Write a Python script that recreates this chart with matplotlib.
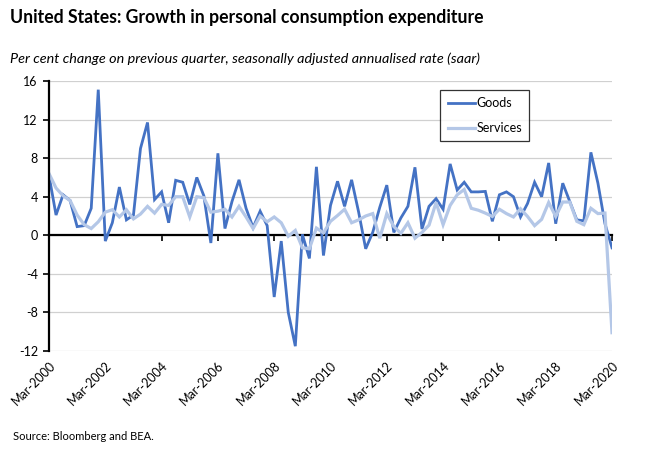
import numpy as np
import matplotlib
matplotlib.use("Agg")
import matplotlib.pyplot as plt

plt.rcParams['font.family'] = ['Lato', 'DejaVu Sans']

# quarterly, Mar-2000 .. Mar-2020
quarters = [f"{m}-{y}" for y in range(2000, 2021) for m in ["Mar", "Jun", "Sep", "Dec"]][:81]

goods = [6.2, 2.1, 4.2, 3.6, 0.9, 1.0, 2.8, 15.1, -0.6, 1.3,
         5.0, 1.6, 2.1, 9.0, 11.7, 3.7, 4.5, 1.3, 5.7, 5.5,
         3.2, 6.0, 4.1, -0.8, 8.5, 0.7, 3.5, 5.75, 2.8, 0.8,
         2.5, 1.0, -6.4, -0.6, -8.0, -11.5, 0.1, -2.4, 7.1, -2.1,
         3.1, 5.6, 3.0, 5.75, 2.4, -1.4, 0.3, 2.9, 5.2, 0.3,
         1.8, 3.0, 7.05, 0.65, 3.0, 3.8, 2.7, 7.4, 4.7, 5.5,
         4.5, 4.5, 4.55, 1.45, 4.2, 4.5, 4.0, 1.9, 3.3, 5.5,
         4.0, 7.5, 1.2, 5.4, 3.5, 1.6, 1.5, 8.6, 5.4, 1.2,
         -1.3]

services = [6.4, 4.9, 4.1, 3.6, 2.1, 1.1, 0.7, 1.4, 2.4, 2.65,
            1.9, 2.65, 1.7, 2.2, 3.0, 2.3, 3.2, 3.1, 4.0, 4.0,
            1.9, 4.0, 3.9, 2.4, 2.5, 2.7, 1.9, 3.0, 1.9, 0.7,
            2.0, 1.4, 1.9, 1.3, -0.1, 0.5, -1.3, -1.4, 0.75, 0.25,
            1.45, 2.05, 2.7, 1.3, 1.6, 2.0, 2.25, -0.3, 2.25, 0.9,
            0.2, 1.3, -0.3, 0.3, 1.05, 3.4, 1.1, 3.1, 4.2, 4.75,
            2.8, 2.6, 2.3, 1.95, 2.7, 2.25, 1.9, 2.75, 1.95, 1.0,
            1.65, 3.4, 1.95, 3.45, 3.45, 1.45, 1.1, 2.8, 2.25, 2.3,
            -10.1]

yticks = [-12, -8, -4, 0, 4, 8, 12, 16]

fig = plt.figure(figsize=(6.5, 4.55), dpi=100)
ax = fig.add_axes([49 / 650, 1 - 351 / 455, 563 / 650, 270 / 455])

x = np.arange(len(quarters))
ax.plot(x, goods, color="#4472C4", lw=2.0, label="Goods", solid_joinstyle="miter")
ax.plot(x, services, color="#B4C7E7", lw=2.3, label="Services", solid_joinstyle="miter")

ax.set_xlim(0, len(quarters) - 1)
ax.set_ylim(-12, 16)
ax.set_yticks(yticks)
ax.set_yticklabels([str(v) for v in yticks], fontsize=9)
ax.yaxis.grid(True, color="#D0D0D0", lw=0.9)
ax.set_axisbelow(True)
ax.tick_params(axis="y", length=4, width=1.2, direction="out", pad=4)

for s in ["top", "right"]:
    ax.spines[s].set_visible(False)
ax.spines["left"].set_linewidth(1.6)
# horizontal axis drawn at zero
ax.spines["bottom"].set_position(("data", 0))
ax.spines["bottom"].set_linewidth(1.6)
ax.spines["bottom"].set_zorder(1)

tick_pos = x[::8]
ax.set_xticks(tick_pos)
ax.set_xticklabels([])
ax.tick_params(axis="x", length=4, width=1.2, direction="out")

# labels at bottom of the plot area
sec = ax.secondary_xaxis(0.0)
sec.set_xticks(tick_pos)
sec.set_xticklabels([quarters[i] for i in tick_pos], rotation=45, ha="right",
                    va="top", rotation_mode="anchor", fontsize=9)
sec.tick_params(length=0, pad=6)
sec.spines["bottom"].set_visible(False)

leg = ax.legend(loc="upper left", bbox_to_anchor=(0.6945, 0.967), fontsize=9,
                frameon=True, fancybox=False, edgecolor="black",
                handlelength=2.2, handletextpad=0.1, labelspacing=1.0,
                borderpad=0.6, borderaxespad=0)
leg.get_frame().set_linewidth(0.9)

fig.text(10 / 650, 1 - 18 / 455, "United States: Growth in personal consumption expenditure",
         fontsize=12.7, fontweight="bold", va="center", ha="left")
fig.text(10 / 650, 1 - 59 / 455,
         "Per cent change on previous quarter, seasonally adjusted annualised rate (saar)",
         fontsize=10.4, style="italic", va="center", ha="left")
fig.text(13 / 650, 1 - 437 / 455, "Source: Bloomberg and BEA.", fontsize=8,
         va="center", ha="left")

fig.savefig("out.png", dpi=100, facecolor="white")
